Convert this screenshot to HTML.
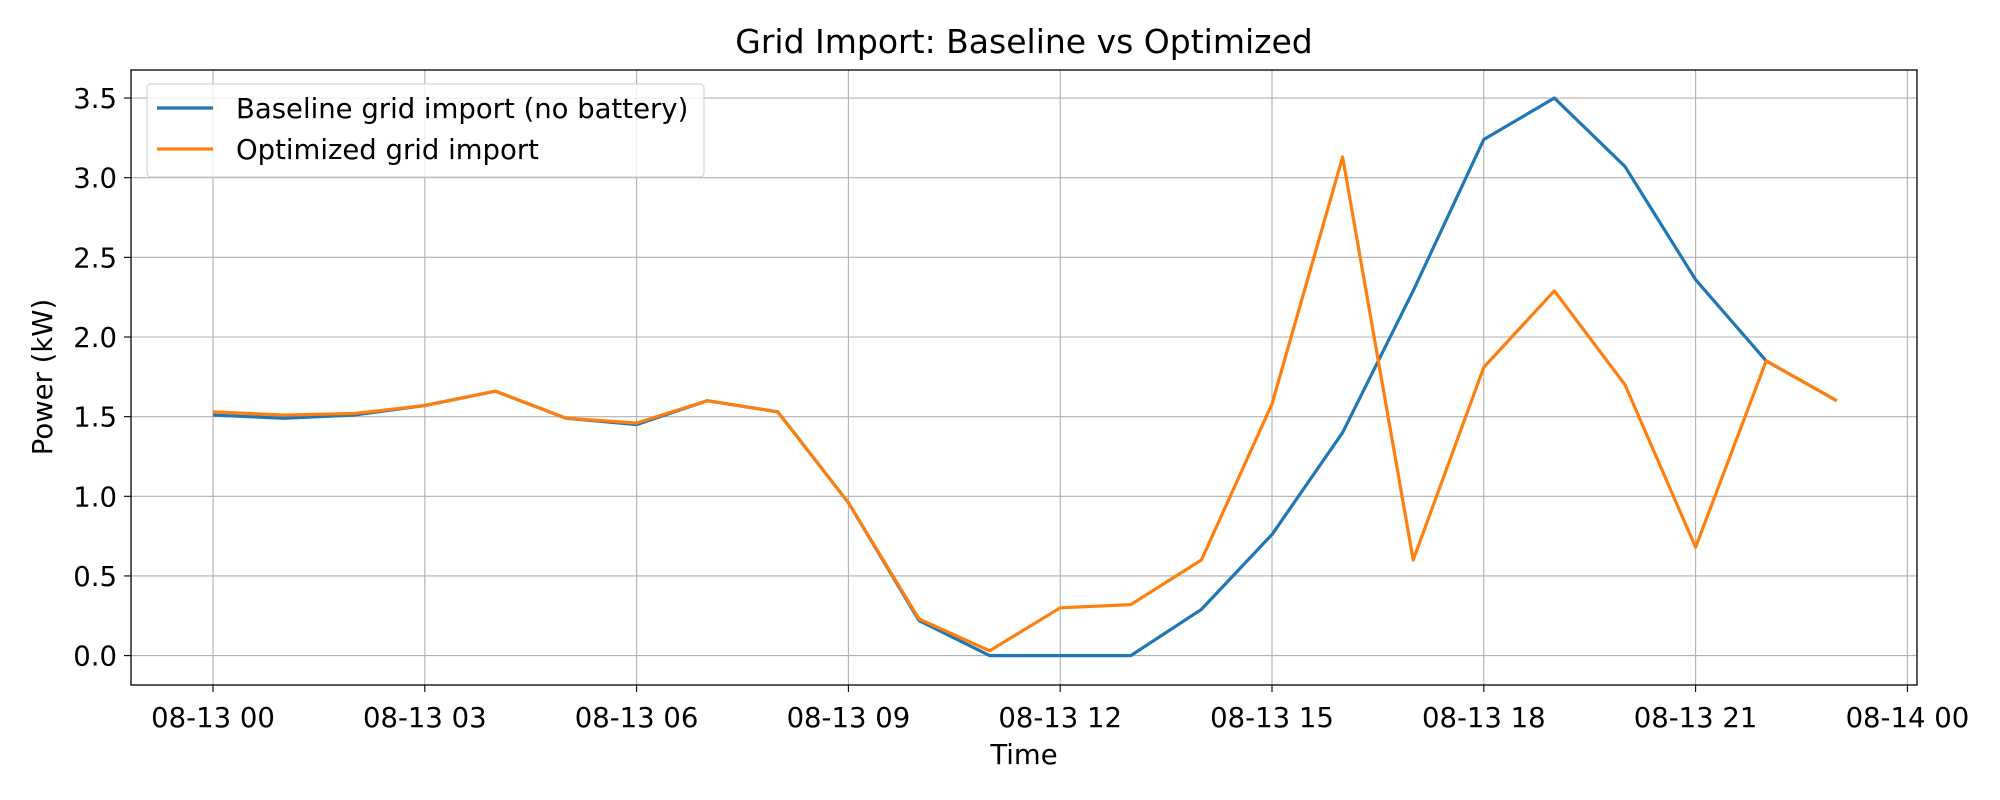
<!DOCTYPE html>
<html><head><meta charset="utf-8"><style>
body{margin:0;background:#fff}
svg{display:block;font-family:"DejaVu Sans","Liberation Sans",sans-serif}
</style></head><body>
<svg id="chart" width="2000" height="800" viewBox="0 0 2000 800">
<rect width="2000" height="800" fill="#fff"/>
<g id="grid"></g>
<g id="ticks"></g>
<g id="series"></g>
<rect x="131" y="70" width="1786" height="615" fill="none" stroke="#000" stroke-width="1.3"/>
<text x="1024" y="53" font-size="33" text-anchor="middle">Grid Import: Baseline vs Optimized</text>
<text x="1024" y="764" font-size="27.5" text-anchor="middle">Time</text>
<text x="52" y="377" font-size="27.5" text-anchor="middle" transform="rotate(-90 52 377)">Power (kW)</text>
<g>
<rect x="147" y="84" width="557" height="93" rx="4" fill="#fff" fill-opacity="0.8" stroke="#ccc"/>
<line x1="157" y1="108" x2="213" y2="108" stroke="#1f77b4" stroke-width="3.2"/>
<text x="236" y="118" font-size="27.5">Baseline grid import (no battery)</text>
<line x1="157" y1="149" x2="213" y2="149" stroke="#ff7f0e" stroke-width="3.2"/>
<text x="236" y="159" font-size="27.5">Optimized grid import</text>
</g>
</svg>
<script>
const hours = [0,1,2,3,4,5,6,7,8,9,10,11,12,13,14,15,16,17,18,19,20,21,22,23];
const baseline = [1.51,1.49,1.51,1.57,1.66,1.49,1.45,1.60,1.53,0.96,0.22,0.0,0.0,0.0,0.29,0.76,1.40,2.29,3.24,3.50,3.07,2.36,1.85,1.60];
const optimized = [1.53,1.51,1.52,1.57,1.66,1.49,1.46,1.60,1.53,0.96,0.23,0.03,0.30,0.32,0.60,1.58,3.13,0.60,1.81,2.29,1.70,0.68,1.85,1.60];
const xTickHours = [0,3,6,9,12,15,18,21,24];
const xTickLabels = ["08-13 00","08-13 03","08-13 06","08-13 09","08-13 12","08-13 15","08-13 18","08-13 21","08-14 00"];
const yTicks = [0,0.5,1.0,1.5,2.0,2.5,3.0,3.5];

const X0=213, XPH=70.6, Y0=655.6, YPU=159.3;
const xs = h => X0 + h*XPH;
const ys = v => Y0 - v*YPU;
const NS="http://www.w3.org/2000/svg";
function mk(tag, attrs, parent){const e=document.createElementNS(NS,tag);for(const k in attrs)e.setAttribute(k,attrs[k]);parent.appendChild(e);return e;}
const grid=document.getElementById('grid'), ticks=document.getElementById('ticks'), series=document.getElementById('series');

xTickHours.forEach((h,i)=>{
  const x=xs(h);
  const g=mk('line',{x1:x,y1:70,x2:x,y2:685,stroke:'#b0b0b0','stroke-width':1.1},grid);
  
  
  const t=mk('line',{x1:x,y1:685,x2:x,y2:692,stroke:'#000','stroke-width':1.1},ticks);
  
  
  const l=mk('text',{x:x,y:727,'font-size':27.5,'text-anchor':'middle'},ticks);
  l.textContent=xTickLabels[i];
  
  
});
yTicks.forEach(v=>{
  const y=ys(v);
  const g=mk('line',{x1:131,y1:y,x2:1917,y2:y,stroke:'#b0b0b0','stroke-width':1.1},grid);
  
  
  const t=mk('line',{x1:124,y1:y,x2:131,y2:y,stroke:'#000','stroke-width':1.1},ticks);
  
  
  const l=mk('text',{x:117,y:y+10,'font-size':27.5,'text-anchor':'end'},ticks);
  l.textContent=v.toFixed(1);
  
  
});
function line(vals,color,name){
  const p=mk('polyline',{points:hours.map((h,i)=>xs(h)+','+ys(vals[i])).join(' '),fill:'none',stroke:color,'stroke-width':3.2,'stroke-linejoin':'round'},series);
  
  
}
line(baseline,'#1f77b4','baseline-line');
line(optimized,'#ff7f0e','optimized-line');
</script>
</body></html>
